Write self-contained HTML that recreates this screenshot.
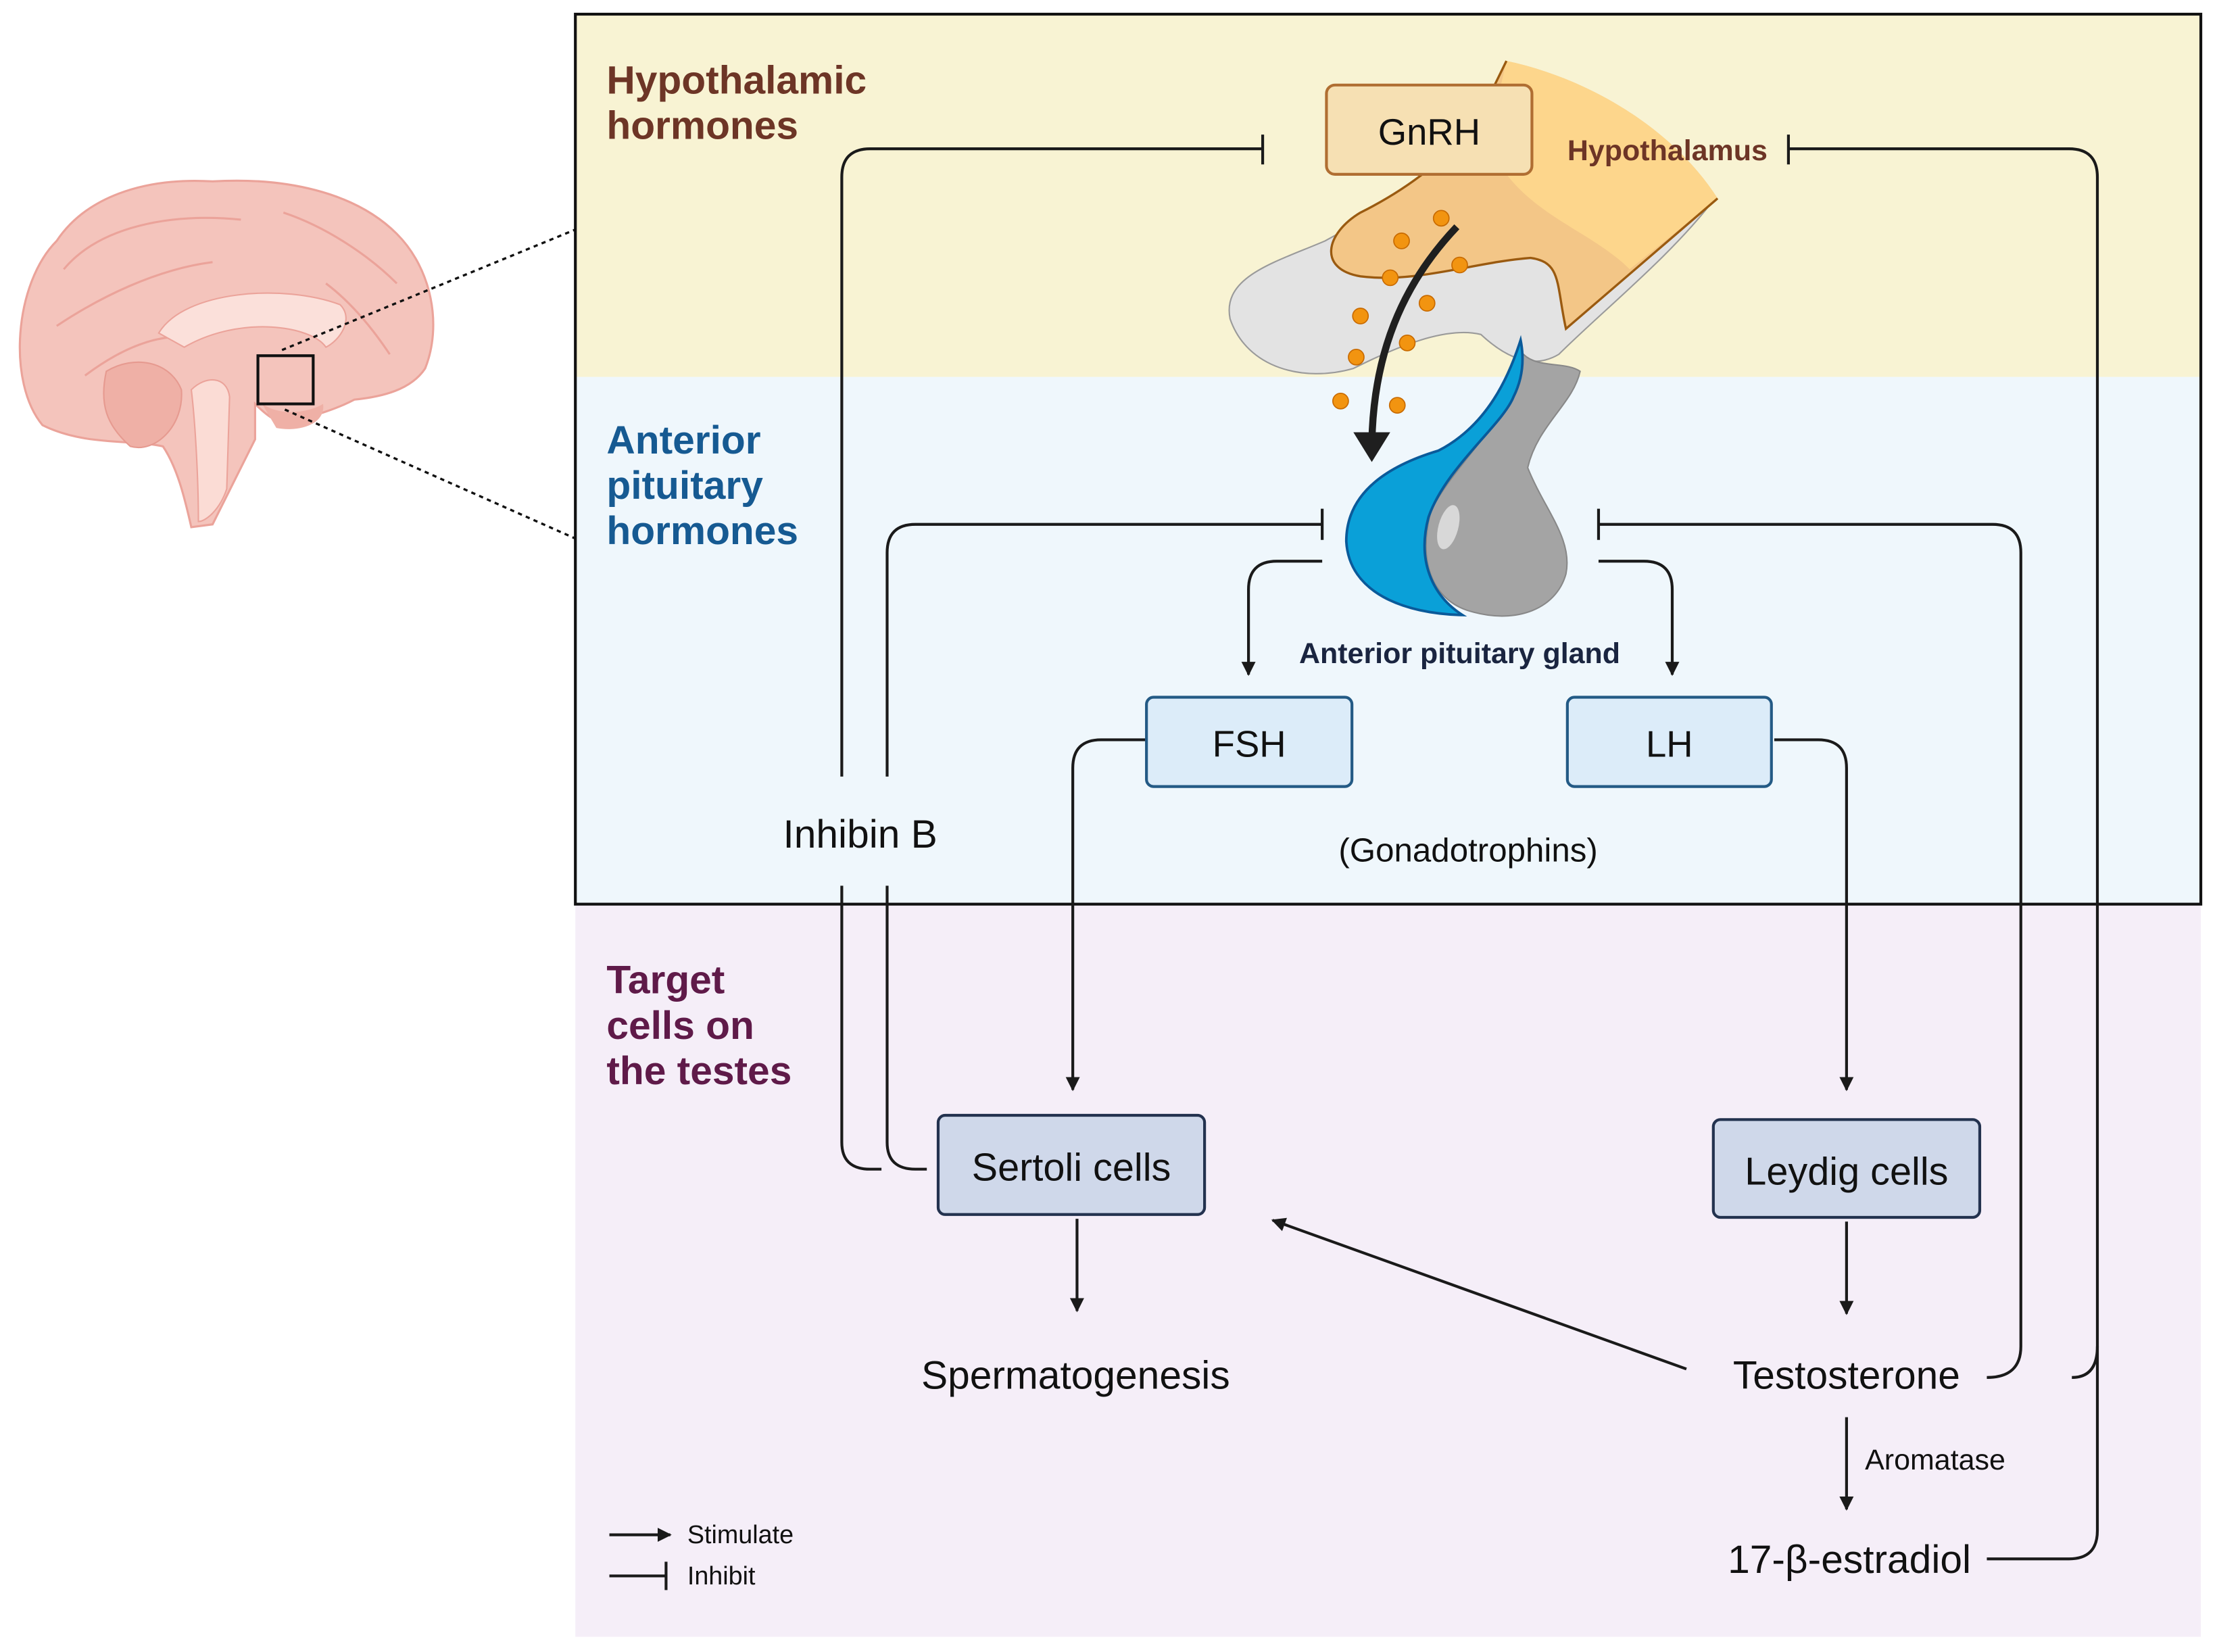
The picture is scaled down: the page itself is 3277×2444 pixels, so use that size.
<!DOCTYPE html>
<html><head><meta charset="utf-8"><style>
html,body{margin:0;padding:0;background:#fff;}
svg{display:block;}
text{font-family:"Liberation Sans",Arial,sans-serif;}
</style></head><body>
<svg width="3277" height="2444" viewBox="0 0 1563 1165.7" preserveAspectRatio="none" xmlns="http://www.w3.org/2000/svg">
<defs>
<marker id="ar" viewBox="0 0 10 10" refX="9" refY="5" markerWidth="5" markerHeight="5" orient="auto-start-reverse"><path d="M0,0 L10,5 L0,10 z" fill="#1a1a1a"/></marker>
</defs>
<rect x="0" y="0" width="1563" height="1166" fill="#fff"/>
<rect x="406" y="10" width="1147" height="256" fill="#f8f3d3"/>
<rect x="406" y="266" width="1147" height="372" fill="#eff7fc"/>
<rect x="406" y="638" width="1147" height="517" fill="#f5eef8"/>
<rect x="406" y="10" width="1147" height="628" fill="none" stroke="#111" stroke-width="2"/>

<!-- brain -->
<g>
<path d="M30,300 C5,270 10,200 40,170 C60,140 100,125 150,128 C200,125 250,135 280,165 C305,190 312,230 300,260 C290,275 270,280 250,282 C235,290 215,295 205,298 C195,300 185,290 180,285 L180,310 C170,330 160,350 150,370 L135,372 C130,350 125,330 115,315 C95,310 60,315 30,300 Z" fill="#f4c4bc" stroke="#eba39a" stroke-width="1.5"/>
<path d="M45,190 C70,160 120,150 170,155 M40,230 C70,210 110,190 150,185 M200,150 C230,160 260,180 280,200 M60,265 C80,250 100,240 120,238 M230,200 C250,215 265,235 275,250" fill="none" stroke="#eba39a" stroke-width="1.5"/>
<path d="M112,235 C130,205 200,200 240,215 C250,225 240,240 230,245 C220,230 170,222 130,245 Z" fill="#fbe0da" stroke="#eba39a" stroke-width="1"/>
<path d="M75,262 C95,250 120,255 128,275 C130,300 110,320 92,315 C75,300 70,285 75,262 Z" fill="#efb0a6" stroke="#e69a90" stroke-width="1"/>
<path d="M135,275 C145,265 160,265 162,280 L160,345 C155,360 145,368 140,368 C140,340 138,300 135,275 Z" fill="#fbdcd5" stroke="#eba39a" stroke-width="1"/>
<path d="M185,285 C200,295 220,290 228,285 C230,300 210,305 195,302 Z" fill="#efb0a6"/>
<rect x="182" y="251" width="39" height="34" fill="none" stroke="#111" stroke-width="2"/>
<line x1="199" y1="247" x2="406" y2="162" stroke="#111" stroke-width="1.6" stroke-dasharray="3,3"/>
<line x1="201" y1="289" x2="406" y2="380" stroke="#111" stroke-width="1.6" stroke-dasharray="3,3"/>
</g>

<g font-weight="bold" font-size="28">
<text x="428" y="66" fill="#6d3526">Hypothalamic</text>
<text x="428" y="98" fill="#6d3526">hormones</text>
<text x="428" y="320" fill="#165a92">Anterior</text>
<text x="428" y="352" fill="#165a92">pituitary</text>
<text x="428" y="384" fill="#165a92">hormones</text>
<text x="428" y="701" fill="#5f1a49">Target</text>
<text x="428" y="733" fill="#5f1a49">cells on</text>
<text x="428" y="765" fill="#5f1a49">the testes</text>
</g>

<!-- illustration -->
<path d="M868,225 C862,195 900,185 935,170 C990,140 1020,120 1070,110 L1210,140 C1180,180 1130,220 1100,250 C1080,262 1060,250 1045,236 C1020,230 985,245 955,260 C920,270 880,260 868,225 Z" fill="#e3e3e3" stroke="#9a9a9a" stroke-width="1"/>
<path d="M1063,43 C1120,55 1180,90 1212,140 L1105,232 C1098,200 1102,185 1080,182 C1040,185 1000,200 960,195 C930,190 935,165 960,150 C1000,130 1020,110 1040,90 Z" fill="#f3c687"/>
<path d="M1063,43 C1120,55 1180,90 1212,140 L1150,190 C1120,160 1070,150 1050,100 Z" fill="#fdd68c"/>
<path d="M1063,43 L1040,90 C1020,110 1000,130 960,150 C935,165 930,190 960,195 C1000,200 1040,185 1080,182 C1102,185 1098,200 1105,232 L1212,140" fill="none" stroke="#9a5a10" stroke-width="1.6"/>
<path d="M1075,250 C1085,260 1105,255 1115,262 C1110,285 1085,300 1078,330 C1090,360 1110,380 1105,405 C1098,430 1070,440 1040,432 C1010,425 1000,395 1010,360 C1025,330 1060,300 1070,270 Z" fill="#a4a4a4" stroke="#888" stroke-width="1"/>
<path d="M1073,240 C1065,265 1050,300 1015,318 C975,330 950,350 950,382 C952,418 990,433 1032,434 C1010,420 1000,395 1008,365 C1020,330 1060,300 1068,280 C1074,268 1076,255 1073,240 Z" fill="#0aa0d8" stroke="#0a5a9a" stroke-width="1.8"/>
<ellipse cx="1022" cy="372" rx="7" ry="16" fill="#d8d8d8" transform="rotate(15 1022 372)"/>
<path d="M1028,160 C990,200 968,250 968,318" fill="none" stroke="#1f1f1f" stroke-width="5"/>
<path d="M955,305 L981,305 L968,326 Z" fill="#1f1f1f"/>
<g fill="#f29410" stroke="#c86a00" stroke-width="0.8">
<circle cx="1017" cy="154" r="5.5"/><circle cx="989" cy="170" r="5.5"/><circle cx="1030" cy="187" r="5.5"/>
<circle cx="981" cy="196" r="5.5"/><circle cx="1007" cy="214" r="5.5"/><circle cx="960" cy="223" r="5.5"/>
<circle cx="993" cy="242" r="5.5"/><circle cx="957" cy="252" r="5.5"/><circle cx="946" cy="283" r="5.5"/><circle cx="986" cy="286" r="5.5"/>
</g>

<rect x="936" y="60" width="145" height="63" rx="6" fill="#f6e0b3" stroke="#b06e32" stroke-width="2"/>
<text x="1008.5" y="102" font-size="26" text-anchor="middle" fill="#111">GnRH</text>
<text x="1106" y="113" font-size="20.5" font-weight="bold" fill="#6d3526">Hypothalamus</text>
<text x="1030" y="468" font-size="20.5" font-weight="bold" fill="#1a2540" text-anchor="middle">Anterior pituitary gland</text>

<g fill="none" stroke="#1a1a1a" stroke-width="2">
<path d="M594,548 L594,125 Q594,105 614,105 L891,105"/><line x1="891" y1="95" x2="891" y2="116"/>
<path d="M626,548 L626,390 Q626,370 646,370 L933,370"/><line x1="933" y1="359" x2="933" y2="381"/>
<path d="M594,625 L594,806 Q594,825 614,825 L622,825"/>
<path d="M626,625 L626,806 Q626,825 646,825 L654,825"/>
<path d="M1402,972 Q1426,972 1426,950 L1426,390 Q1426,370 1406,370 L1128,370"/><line x1="1128" y1="359" x2="1128" y2="381"/>
<path d="M1462,972 Q1480,972 1480,950"/>
<path d="M1262,105 L1460,105 Q1480,105 1480,125 L1480,1080 Q1480,1100 1460,1100 L1402,1100"/><line x1="1262" y1="95" x2="1262" y2="116"/>
<path d="M933,396 L901,396 Q881,396 881,416 L881,476" marker-end="url(#ar)"/>
<path d="M1128,396 L1160,396 Q1180,396 1180,416 L1180,476" marker-end="url(#ar)"/>
<path d="M809,522 L777,522 Q757,522 757,542 L757,769" marker-end="url(#ar)"/>
<path d="M1252,522 L1283,522 Q1303,522 1303,542 L1303,769" marker-end="url(#ar)"/>
<line x1="760" y1="860" x2="760" y2="925" marker-end="url(#ar)"/>
<line x1="1303" y1="862" x2="1303" y2="927" marker-end="url(#ar)"/>
<line x1="1190" y1="966" x2="898" y2="861" marker-end="url(#ar)"/>
<line x1="1303" y1="1000" x2="1303" y2="1065" marker-end="url(#ar)"/>
<line x1="430" y1="1083" x2="473" y2="1083" marker-end="url(#ar)"/>
<line x1="430" y1="1112" x2="470" y2="1112"/><line x1="470" y1="1102" x2="470" y2="1122"/>
</g>

<rect x="809" y="492" width="145" height="63" rx="5" fill="#dcecf9" stroke="#235a85" stroke-width="2"/>
<text x="881.5" y="534" font-size="26" text-anchor="middle" fill="#111">FSH</text>
<rect x="1106" y="492" width="144" height="63" rx="5" fill="#dcecf9" stroke="#235a85" stroke-width="2"/>
<text x="1178" y="534" font-size="26" text-anchor="middle" fill="#111">LH</text>
<rect x="662" y="787" width="188" height="70" rx="5" fill="#cfd8ea" stroke="#23324f" stroke-width="2"/>
<text x="756" y="833" font-size="27.5" text-anchor="middle" fill="#111">Sertoli cells</text>
<rect x="1209" y="790" width="188" height="69" rx="5" fill="#cfd8ea" stroke="#23324f" stroke-width="2"/>
<text x="1303" y="836" font-size="27.5" text-anchor="middle" fill="#111">Leydig cells</text>

<g font-size="28" fill="#111" text-anchor="middle">
<text x="607" y="598">Inhibin B</text>
<text x="759" y="980">Spermatogenesis</text>
<text x="1303" y="980">Testosterone</text>
<text x="1305" y="1110">17-β-estradiol</text>
</g>
<text x="1036" y="608" font-size="23.5" text-anchor="middle" fill="#111">(Gonadotrophins)</text>
<text x="1316" y="1037" font-size="20.5" fill="#111">Aromatase</text>
<text x="485" y="1089" font-size="18" fill="#111">Stimulate</text>
<text x="485" y="1118" font-size="18" fill="#111">Inhibit</text>
</svg>
</body></html>
